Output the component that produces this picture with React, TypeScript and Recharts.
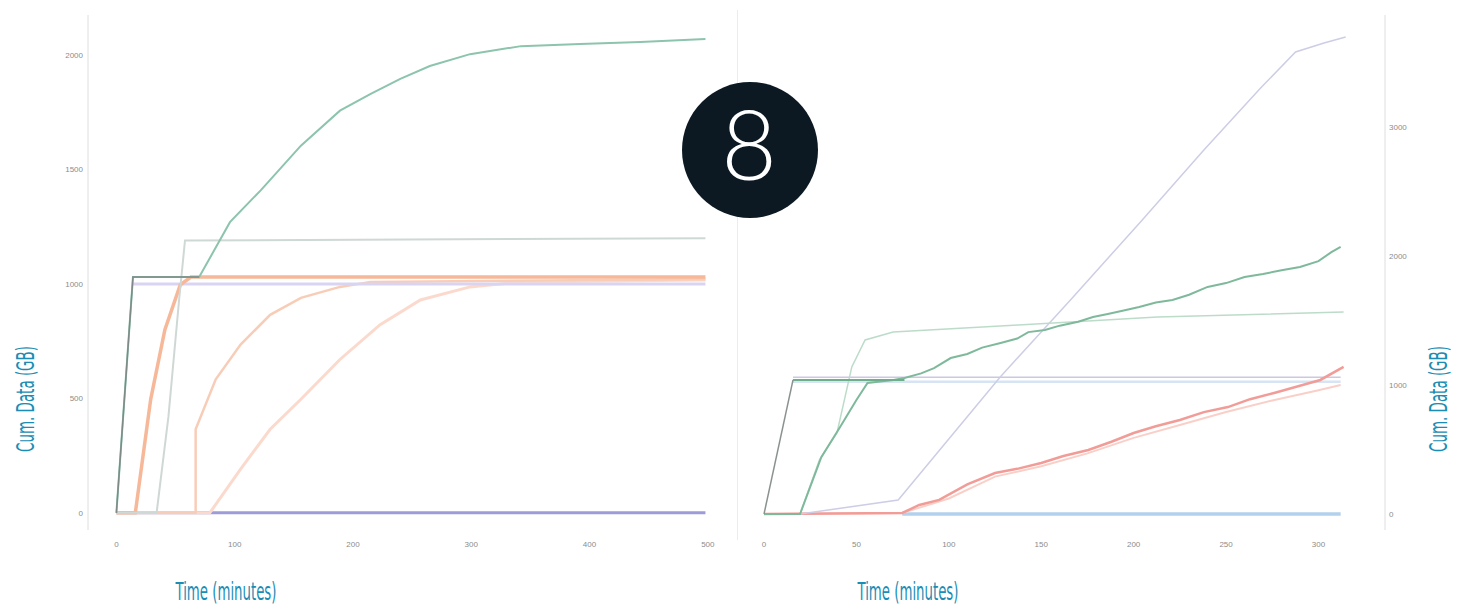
import React from "react";
import { LineChart, Line, XAxis, YAxis } from "recharts";

type P = { t: number; v: number };

// ---------- Left chart data (time in minutes, cumulative GB) ----------
const leftTicksX = [0, 100, 200, 300, 400, 500];
const leftTicksY = [0, 500, 1000, 1500, 2000];

const leftTealT = [0, 14, 70, 96, 122, 156, 189, 215, 240, 265, 299, 342, 392, 443, 498];
const leftTealV = [0, 1030, 1030, 1270, 1409, 1604, 1757, 1830, 1896, 1952, 2004, 2039, 2048, 2057, 2070];

const leftDarkT = [0, 14, 70];
const leftDarkV = [0, 1030, 1030];

const leftGrayT = [0, 34, 44, 53, 58, 498];
const leftGrayV = [0, 0, 420, 930, 1190, 1200];

const leftOrangeT = [0, 16, 29, 41, 54, 63, 498];
const leftOrangeV = [0, 0, 496, 800, 996, 1030, 1030];

const leftLavT = [14, 498];
const leftLavV = [1000, 1000];

const leftOrange2T = [0, 67, 67, 84, 105, 130, 156, 189, 215, 498];
const leftOrange2V = [0, 0, 365, 583, 735, 865, 939, 987, 1009, 1020];

const leftPinkT = [0, 79, 105, 130, 156, 189, 223, 257, 299, 342, 498];
const leftPinkV = [0, 0, 191, 365, 496, 670, 822, 930, 987, 1009, 1017];

const leftPurpleT = [0, 498];
const leftPurpleV = [0, 0];

// ---------- Right chart data ----------
const rightTicksX = [0, 50, 100, 150, 200, 250, 300];
const rightTicksY = [0, 1000, 2000, 3000];

const rightDarkT = [0, 15.7];
const rightDarkV = [0, 1039];

const rightGreenFlatT = [15.7, 76];
const rightGreenFlatV = [1039, 1039];

const rightLavFlatT = [15.7, 312];
const rightLavFlatV = [1060, 1060];

const rightBlueFlatT = [15.7, 312];
const rightBlueFlatV = [1025, 1025];

const rightTealT = [0, 19.5, 31, 41, 50, 56, 70, 76, 85, 92, 101, 110, 118, 128, 137, 143, 152, 160, 170, 178, 186, 194, 203, 212, 221, 230, 240, 250, 260, 270, 280, 290, 300, 307, 312];
const rightTealV = [0, 0, 440, 670, 884, 1016, 1039, 1054, 1090, 1130, 1209, 1240, 1290, 1326, 1360, 1410, 1426, 1460, 1490, 1527, 1550, 1575, 1605, 1640, 1659, 1700, 1760, 1790, 1837, 1860, 1890, 1915, 1960, 2030, 2070];

const rightLightGreenT = [0, 19.5, 30, 39.5, 47.5, 54.7, 69.9, 137.6, 212.9, 313.6];
const rightLightGreenV = [0, 0, 420, 630, 1140, 1349, 1411, 1465, 1527, 1566];

const rightLavT = [0, 19.5, 72.6, 127.8, 165.8, 203.7, 238, 268.7, 287.6, 303, 314.7];
const rightLavV = [0, 0, 108, 1062, 1659, 2264, 2822, 3302, 3581, 3651, 3698];

const rightRedT = [0, 74.8, 84, 94.8, 110, 125, 137, 150, 162, 175.5, 188, 200, 212, 225, 238, 251, 263, 276, 289, 301, 313.6];
const rightRedV = [0, 8, 70, 109, 230, 318, 350, 395, 450, 496, 560, 628, 680, 729, 790, 829, 890, 938, 990, 1039, 1140];

const rightPinkT = [0, 74.8, 100, 125, 150, 175, 200, 225, 250, 275, 300, 312];
const rightPinkV = [0, 8, 120, 290, 370, 470, 590, 690, 790, 880, 960, 1000];

const rightBlueT = [74.8, 312];
const rightBlueV = [0, 0];

const zip = (t: number[], v: number[]): P[] => t.map((x, i) => ({ t: x, v: v[i] }));

const tickStyle = { fontSize: 8, fill: "#8c8c8c", fontFamily: "Liberation Sans, Arial, sans-serif" };

const labelColor = "#1b8db4";

function LeftChart() {
  return (
    <LineChart
      width={740}
      height={560}
      margin={{ top: 15, right: 18, left: 58, bottom: 5 }}
    >
      <XAxis
        type="number"
        dataKey="t"
        domain={[-24, 512]}
        ticks={leftTicksX}
        allowDataOverflow
        axisLine={false}
        tickLine={false}
        tick={tickStyle}
        tickMargin={5}
        height={25}
      />
      <YAxis
        type="number"
        dataKey="v"
        domain={[-75, 2175]}
        ticks={leftTicksY}
        allowDataOverflow
        axisLine={{ stroke: "#dedede" }}
        tickLine={false}
        tick={tickStyle}
        width={30}
        tickSize={3}
      />
      <Line data={zip(leftPurpleT, leftPurpleV)} dataKey="v" stroke="#9d9cd8" strokeWidth={3} dot={false} isAnimationActive={false} />
      <Line data={zip(leftPinkT, leftPinkV)} dataKey="v" stroke="#fbdacd" strokeWidth={3} dot={false} isAnimationActive={false} />
      <Line data={zip(leftOrange2T, leftOrange2V)} dataKey="v" stroke="#f8cdb8" strokeWidth={2.5} dot={false} isAnimationActive={false} />
      <Line data={zip(leftLavT, leftLavV)} dataKey="v" stroke="#d9d4f2" strokeWidth={3} dot={false} isAnimationActive={false} />
      <Line data={zip(leftOrangeT, leftOrangeV)} dataKey="v" stroke="#f6b898" strokeWidth={3.5} dot={false} isAnimationActive={false} />
      <Line data={zip(leftGrayT, leftGrayV)} dataKey="v" stroke="#cfd8d4" strokeWidth={2} dot={false} isAnimationActive={false} />
      <Line data={zip(leftTealT, leftTealV)} dataKey="v" stroke="#8cc4ad" strokeWidth={2} dot={false} isAnimationActive={false} />
      <Line data={zip(leftDarkT, leftDarkV)} dataKey="v" stroke="#7f8a88" strokeWidth={1.5} dot={false} isAnimationActive={false} />
    </LineChart>
  );
}

function RightChart() {
  return (
    <LineChart
      width={727}
      height={560}
      margin={{ top: 15, right: 42, left: 12, bottom: 5 }}
    >
      <XAxis
        type="number"
        dataKey="t"
        domain={[-6.5, 336]}
        ticks={rightTicksX}
        allowDataOverflow
        axisLine={false}
        tickLine={false}
        tick={tickStyle}
        tickMargin={5}
        height={25}
      />
      <YAxis
        type="number"
        dataKey="v"
        orientation="right"
        domain={[-124, 3868]}
        ticks={rightTicksY}
        allowDataOverflow
        axisLine={{ stroke: "#dedede" }}
        tickLine={false}
        tick={tickStyle}
        width={40}
        tickSize={2}
      />
      <Line data={zip(rightBlueT, rightBlueV)} dataKey="v" stroke="#b3d0ec" strokeWidth={3.5} dot={false} isAnimationActive={false} />
      <Line data={zip(rightBlueFlatT, rightBlueFlatV)} dataKey="v" stroke="#d6e4f4" strokeWidth={2.5} dot={false} isAnimationActive={false} />
      <Line data={zip(rightLavFlatT, rightLavFlatV)} dataKey="v" stroke="#cbc8e2" strokeWidth={1.5} dot={false} isAnimationActive={false} />
      <Line data={zip(rightPinkT, rightPinkV)} dataKey="v" stroke="#f9cfc8" strokeWidth={2} dot={false} isAnimationActive={false} />
      <Line data={zip(rightRedT, rightRedV)} dataKey="v" stroke="#f29c98" strokeWidth={2.5} dot={false} isAnimationActive={false} />
      <Line data={zip(rightLavT, rightLavV)} dataKey="v" stroke="#cdcde6" strokeWidth={1.5} dot={false} isAnimationActive={false} />
      <Line data={zip(rightLightGreenT, rightLightGreenV)} dataKey="v" stroke="#bcdcc9" strokeWidth={1.5} dot={false} isAnimationActive={false} />
      <Line data={zip(rightTealT, rightTealV)} dataKey="v" stroke="#7fb99c" strokeWidth={2} dot={false} isAnimationActive={false} />
      <Line data={zip(rightGreenFlatT, rightGreenFlatV)} dataKey="v" stroke="#6fae8d" strokeWidth={2} dot={false} isAnimationActive={false} />
      <Line data={zip(rightDarkT, rightDarkV)} dataKey="v" stroke="#8a9290" strokeWidth={1.5} dot={false} isAnimationActive={false} />
    </LineChart>
  );
}

export default function App() {
  const labelFont = "'Liberation Sans Narrow', 'DejaVu Sans Condensed', 'Liberation Sans', sans-serif";
  return (
    <div style={{ position: "absolute", left: 0, top: 0, width: 1467, height: 608, background: "#ffffff", overflow: "hidden" }}>
      <div style={{ position: "absolute", left: 0, top: 0 }}>
        <LeftChart />
      </div>
      <div style={{ position: "absolute", left: 740, top: 0 }}>
        <RightChart />
      </div>
      <div style={{ position: "absolute", left: 737, top: 10, width: 1, height: 530, background: "#ececec" }} />
      <svg width={1467} height={608} style={{ position: "absolute", left: 0, top: 0, pointerEvents: "none" }}>
        <text x={226} y={600} fill={labelColor} fontSize={24} fontFamily={labelFont} textAnchor="middle" textLength={101} lengthAdjust="spacingAndGlyphs">Time (minutes)</text>
        <text x={908} y={600} fill={labelColor} fontSize={24} fontFamily={labelFont} textAnchor="middle" textLength={101} lengthAdjust="spacingAndGlyphs">Time (minutes)</text>
        <text x={0} y={0} transform="translate(34,399) rotate(-90)" fill={labelColor} fontSize={25} fontFamily={labelFont} textAnchor="middle" textLength={106} lengthAdjust="spacingAndGlyphs">Cum. Data (GB)</text>
        <text x={0} y={0} transform="translate(1447,399) rotate(-90)" fill={labelColor} fontSize={25} fontFamily={labelFont} textAnchor="middle" textLength={106} lengthAdjust="spacingAndGlyphs">Cum. Data (GB)</text>
        <circle cx={750} cy={150} r={68} fill="#0c1922" />
        <text x={749} y={180} fill="#ffffff" fontSize={96} fontFamily="Lato, 'Open Sans', sans-serif" fontWeight={300} textAnchor="middle">8</text>
      </svg>
    </div>
  );
}
